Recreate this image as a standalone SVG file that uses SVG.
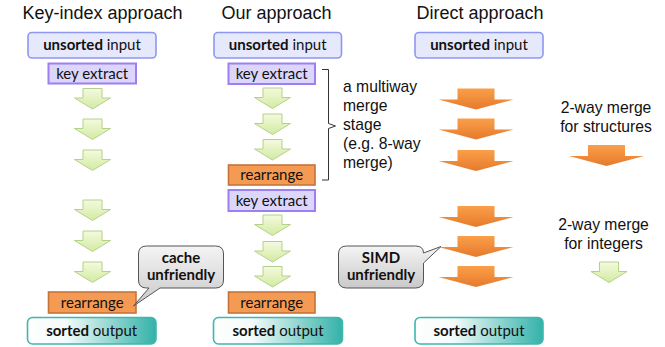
<svg xmlns="http://www.w3.org/2000/svg" width="665" height="347" viewBox="0 0 665 347">
  <defs>
    <linearGradient id="gradGreen" x1="0" y1="0" x2="0" y2="1">
      <stop offset="0" stop-color="#f4fadf"/>
      <stop offset="1" stop-color="#d3eaa2"/>
    </linearGradient>
    <linearGradient id="gradOrange" x1="0" y1="0" x2="0" y2="1">
      <stop offset="0" stop-color="#fb9f49"/>
      <stop offset="1" stop-color="#e57a2c"/>
    </linearGradient>
    <linearGradient id="gradSorted" x1="0" y1="0" x2="1" y2="0">
      <stop offset="0" stop-color="#ffffff"/>
      <stop offset="0.3" stop-color="#f3fbfa"/>
      <stop offset="1" stop-color="#33b2a9"/>
    </linearGradient>
    <linearGradient id="gradCallout" x1="0" y1="0" x2="0" y2="1">
      <stop offset="0" stop-color="#f4f4f4"/>
      <stop offset="1" stop-color="#c9c9c9"/>
    </linearGradient>
    <!-- block arrows, drawn from top-centre -->
    <path id="arrowGreen" d="M-9.5,0 H9.5 V9.5 H18 L0,20.5 L-18,9.5 H-9.5 Z" fill="url(#gradGreen)" stroke="#b3d288" stroke-width="1"/>
    <path id="arrowOrange" d="M-18.5,0 H18.5 V11 H37.5 L0,21 L-37.5,11 H-18.5 Z" fill="url(#gradOrange)"/>
  </defs>
  <style>
    .title { font-family: "Liberation Sans", Arial, sans-serif; font-size: 18px; fill: #111; }
    .note { font-family: "Liberation Sans", Arial, sans-serif; font-size: 15.7px; fill: #111; }
    .lbl { font-family: Lato, "Noto Sans", sans-serif; font-size: 15px; fill: #111; text-anchor: middle; }
    .b { font-weight: bold; }
    .unsorted { fill: #e6e8fc; stroke: #8e97f0; stroke-width: 1.6; }
    .extract { fill: #dcd6fa; stroke: #9c7ff2; stroke-width: 2; }
    .rearr { fill: #f59a52; stroke: #c5733b; stroke-width: 1.6; }
    .sorted { fill: url(#gradSorted); stroke: #3fb7ae; stroke-width: 1.6; }
    .callout { fill: url(#gradCallout); stroke: #555; stroke-width: 1; }
    .ctext { font-family: Lato, "Noto Sans", sans-serif; font-size: 15px; font-weight: bold; fill: #111; text-anchor: middle; }
  </style>

  <!-- column headings -->
  <text class="title" x="22.5" y="18.5">Key-index approach</text>
  <text class="title" x="221.5" y="18.5">Our approach</text>
  <text class="title" x="416.5" y="18.5">Direct approach</text>

  <!-- key-index column -->
  <g id="ki-input">
    <rect class="unsorted" x="28" y="32.5" width="128" height="25.5" rx="4"/>
    <text class="lbl" x="92" y="50.3"><tspan class="b">unsorted</tspan> input</text>
  </g>
  <g id="ki-extract">
    <rect class="extract" x="48.5" y="63.5" width="87.5" height="20"/>
    <text class="lbl" x="92.2" y="78.8">key extract</text>
  </g>
  <g id="ki-rearrange">
    <rect class="rearr" x="48.5" y="292" width="87.5" height="21"/>
    <text class="lbl" x="92.2" y="307.8">rearrange</text>
  </g>
  <g id="ki-output">
    <rect class="sorted" x="27.5" y="317.5" width="128.5" height="26.5" rx="5"/>
    <text class="lbl" x="91.7" y="336.3"><tspan class="b">sorted</tspan> output</text>
  </g>
  <g id="ki-callout">
    <path class="callout" d="M146.5,246 H215.5 Q223.5,246 223.5,254 V280 Q223.5,288 215.5,288 H160 L133.5,306 L149,288 H146.5 Q138.5,288 138.5,280 V254 Q138.5,246 146.5,246 Z"/>
    <text class="ctext" x="181" y="263">cache</text>
    <text class="ctext" x="181" y="280">unfriendly</text>
  </g>

  <!-- our approach column -->
  <g id="our-input">
    <rect class="unsorted" x="214" y="32.5" width="127.5" height="25.5" rx="4"/>
    <text class="lbl" x="277.7" y="50.3"><tspan class="b">unsorted</tspan> input</text>
  </g>
  <g id="our-extract1">
    <rect class="extract" x="228.5" y="63.5" width="86.5" height="20.5"/>
    <text class="lbl" x="271.7" y="78.8">key extract</text>
  </g>
  <g id="our-rearrange1">
    <rect class="rearr" x="228.5" y="165" width="86.5" height="20"/>
    <text class="lbl" x="271.7" y="180.3">rearrange</text>
  </g>
  <g id="our-extract2">
    <rect class="extract" x="228.5" y="190" width="86.5" height="21"/>
    <text class="lbl" x="271.7" y="205.8">key extract</text>
  </g>
  <g id="our-rearrange2">
    <rect class="rearr" x="228.5" y="292" width="86.5" height="21"/>
    <text class="lbl" x="271.7" y="307.8">rearrange</text>
  </g>
  <g id="our-output">
    <rect class="sorted" x="213.5" y="317.5" width="129" height="26.5" rx="5"/>
    <text class="lbl" x="278" y="336.3"><tspan class="b">sorted</tspan> output</text>
  </g>
  <g id="our-stage-note">
    <path d="M322,69.5 H328.5 V123.5 L335.5,126 L328.5,128.5 V180 H322" fill="none" stroke="#333" stroke-width="1"/>
    <text class="note" x="343" y="91.5">a multiway</text>
    <text class="note" x="343" y="110.5">merge</text>
    <text class="note" x="343" y="129.5">stage</text>
    <text class="note" x="343" y="148.5">(e.g. 8-way</text>
    <text class="note" x="343" y="167.5">merge)</text>
  </g>
  <g id="our-callout">
    <path class="callout" d="M346.5,246 H415.5 Q423.5,246 423.5,253 L441,246.5 L423.5,263 V280 Q423.5,288 415.5,288 H346.5 Q338.5,288 338.5,280 V254 Q338.5,246 346.5,246 Z"/>
    <text class="ctext" x="381" y="263">SIMD</text>
    <text class="ctext" x="381" y="280">unfriendly</text>
  </g>

  <!-- direct approach column -->
  <g id="direct-input">
    <rect class="unsorted" x="415" y="32.5" width="128" height="25.5" rx="4"/>
    <text class="lbl" x="479" y="50.3"><tspan class="b">unsorted</tspan> input</text>
  </g>
  <g id="direct-output">
    <rect class="sorted" x="415" y="317.5" width="128" height="26.5" rx="5"/>
    <text class="lbl" x="479" y="336.3"><tspan class="b">sorted</tspan> output</text>
  </g>

  <!-- legend -->
  <g id="legend-structures">
    <text class="note" x="606" y="113" text-anchor="middle">2-way merge</text>
    <text class="note" x="606" y="132" text-anchor="middle">for structures</text>
    <use href="#arrowOrange" x="606.5" y="145"/>
  </g>
  <g id="legend-integers">
    <text class="note" x="603.5" y="230" text-anchor="middle">2-way merge</text>
    <text class="note" x="603.5" y="249" text-anchor="middle">for integers</text>
    <use href="#arrowGreen" x="609" y="262"/>
  </g>

  <!-- merge-step arrows -->
  <g id="connectors">
    <use href="#arrowGreen" x="92.5" y="88.5"/>
    <use href="#arrowGreen" x="92.5" y="119"/>
    <use href="#arrowGreen" x="92.5" y="150"/>
    <use href="#arrowGreen" x="92.5" y="200"/>
    <use href="#arrowGreen" x="92.5" y="231"/>
    <use href="#arrowGreen" x="92.5" y="262"/>

    <use href="#arrowGreen" x="272.5" y="88"/>
    <use href="#arrowGreen" x="272.5" y="114"/>
    <use href="#arrowGreen" x="272.5" y="139.5"/>
    <use href="#arrowGreen" x="272.5" y="215"/>
    <use href="#arrowGreen" x="272.5" y="241.5"/>
    <use href="#arrowGreen" x="272.5" y="266.5"/>

    <use href="#arrowOrange" x="476" y="88.5"/>
    <use href="#arrowOrange" x="476" y="118.5"/>
    <use href="#arrowOrange" x="476" y="150"/>
    <use href="#arrowOrange" x="476" y="206"/>
    <use href="#arrowOrange" x="476" y="236"/>
    <use href="#arrowOrange" x="476" y="266"/>
  </g>
</svg>
